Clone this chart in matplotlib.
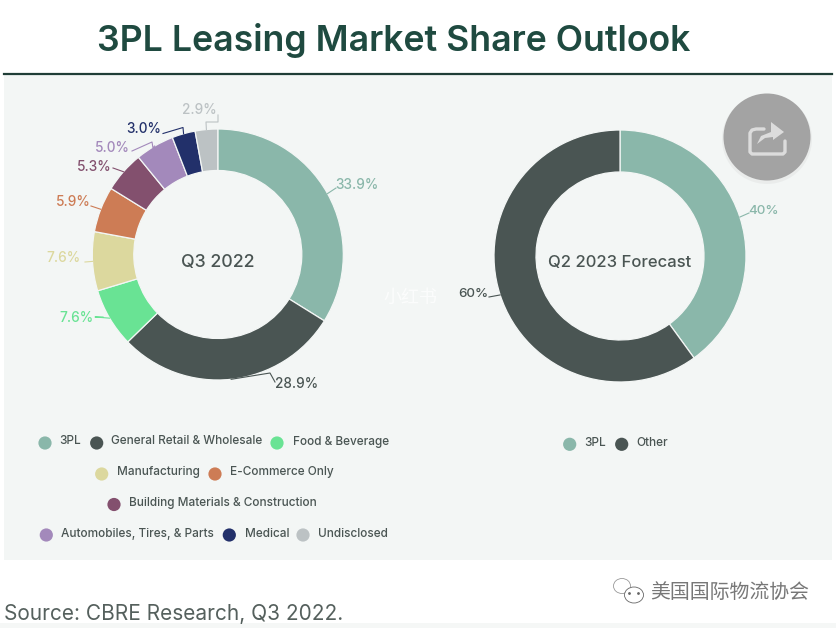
import numpy as np
import matplotlib
matplotlib.use('Agg')
import matplotlib.pyplot as plt
from matplotlib.patches import Circle, Ellipse, Polygon, Rectangle

plt.rcParams['font.family'] = ['Inter', 'DejaVu Sans']

# data
CATEGORIES_Q3 = ['3PL', 'General Retail & Wholesale', 'Food & Beverage', 'Manufacturing',
                 'E-Commerce Only', 'Building Materials & Construction',
                 'Automobiles, Tires, & Parts', 'Medical', 'Undisclosed']
VALUES_Q3 = [33.9, 28.9, 7.6, 7.6, 5.9, 5.3, 5.0, 3.0, 2.9]
COLORS_Q3 = ['#8ab7aa', '#4a5553', '#69e394', '#dcd89e', '#cd7c55', '#83506e', '#a389bb', '#22306a', '#bcc2c4']
LABELS_Q3 = ['33.9%', '28.9%', '7.6%', '7.6%', '5.9%', '5.3%', '5.0%', '3.0%', '2.9%']

CATEGORIES_Q2 = ['3PL', 'Other']
VALUES_Q2 = [40, 60]
COLORS_Q2 = ['#8ab7aa', '#4a5553']
LABELS_Q2 = ['40%', '60%']

W, H = 837, 628
PANEL = '#f3f6f5'
TEXT = '#4a5553'

fig = plt.figure(figsize=(W / 100, H / 100), dpi=100, facecolor='white')

# overlay in pixel coords, y going down
ax = fig.add_axes([0, 0, 1, 1], zorder=1)
ax.set_xlim(0, W)
ax.set_ylim(H, 0)
ax.axis('off')
ax.patch.set_alpha(0)

bg = fig.add_axes([0, 0, 1, 1], zorder=0)
bg.set_xlim(0, W)
bg.set_ylim(H, 0)
bg.axis('off')
bg.add_patch(Rectangle((4, 75), 828, 485, color=PANEL, lw=0))
bg.add_patch(Rectangle((0, 623), W, 5, color='#f5f7f6', lw=0))
bg.plot([4, 832], [73.5, 73.5], color='#1f3d36', lw=1.6)


def donut(cx, cy, radius, inner, values, colors):
    a = fig.add_axes([(cx - radius) / W, 1 - (cy + radius) / H, 2 * radius / W, 2 * radius / H], zorder=0.5)
    a.pie(values, colors=colors, startangle=90, counterclock=False, radius=1,
          wedgeprops=dict(width=1 - inner / radius, edgecolor=PANEL, linewidth=0.9))
    a.set_xlim(-1, 1)
    a.set_ylim(-1, 1)
    return a


def leader(cx, cy, radius, values, i, points, color):
    # start on the outer edge of wedge i, at its middle angle
    mid = (sum(values[:i]) + values[i] / 2) / sum(values) * 2 * np.pi
    x0 = cx + radius * np.sin(mid)
    y0 = cy - radius * np.cos(mid)
    xs = [x0] + [p[0] for p in points]
    ys = [y0] + [p[1] for p in points]
    ax.plot(xs, ys, color=color, lw=0.8, solid_joinstyle='round')


CX1, CY1, R1, IN1 = 217.8, 254.5, 125.5, 84
CX2, CY2, R2, IN2 = 620, 256, 126, 84
donut(CX1, CY1, R1, IN1, VALUES_Q3, COLORS_Q3)
donut(CX2, CY2, R2, IN2, VALUES_Q2, COLORS_Q2)

# label layout: text x, text y, align, elbow points
LAYOUT_Q3 = [
    (335, 185, 'left', [(336, 188)]),
    (275, 384, 'left', [(270, 373), (275, 382)]),
    (93.5, 318.5, 'right', [(95, 317), (103, 317)]),
    (81, 258, 'right', [(85, 262)]),
    (91, 202, 'right', [(91, 206)]),
    (112, 167, 'right', [(113, 168)]),
    (130, 148, 'right', [(153, 148), (152, 142), (132, 151)]),
    (161, 129, 'right', [(183, 127.5), (163, 133.5)]),
    (217, 110, 'right', [(206, 122), (218, 122), (218, 115)]),
]
LAYOUT_Q2 = [
    (748, 211, 'left', [(749, 213)]),
    (488, 294, 'right', [(489, 297)]),
]

for i, (x, y, ha, pts) in enumerate(LAYOUT_Q3):
    leader(CX1, CY1, R1, VALUES_Q3, i, pts, COLORS_Q3[i])
    ax.text(x, y, LABELS_Q3[i], color=COLORS_Q3[i], fontsize=9.8, fontweight='medium', ha=ha, va='center')

for i, (x, y, ha, pts) in enumerate(LAYOUT_Q2):
    leader(CX2, CY2, R2, VALUES_Q2, i, pts, COLORS_Q2[i])
    ax.text(x, y, LABELS_Q2[i], color=COLORS_Q2[i], fontsize=9.6, fontweight='medium', ha=ha, va='center')

ax.text(217.5, 262.5, 'Q3 2022', color=TEXT, fontsize=12.8, fontweight='medium', ha='center', va='center')
ax.text(620, 262.5, 'Q2 2023 Forecast', color=TEXT, fontsize=12, fontweight='medium', ha='center', va='center')

# title, source
ax.text(97, 41, '3PL Leasing Market Share Outlook', color='#1f4a40', fontsize=25.7,
        fontweight='semibold', ha='left', va='center')
ax.text(4, 614, 'Source: CBRE Research, Q3 2022.', color='#55605d', fontsize=15, ha='left', va='center')

# legends: marker x, marker y, text x, text y
LEGEND_Q3 = [(45, 443, 59.7, 441.5), (96.7, 443, 111.3, 441.5), (277, 443, 292.7, 441.5),
             (101.7, 474, 116.7, 472.3), (215, 474, 230, 472.3),
             (114, 504.5, 129, 502.7),
             (46.3, 535, 61.3, 533.7), (229.3, 535, 244.7, 533.7), (303, 535, 318, 533.7)]
LEGEND_Q2 = [(569.7, 444.3, 584.3, 443.3), (621.7, 444.3, 636.3, 443.3)]

for (mx, my, tx, ty), name, c in zip(LEGEND_Q3, CATEGORIES_Q3, COLORS_Q3):
    ax.add_patch(Circle((mx, my), 6.6, color=c, lw=0))
    ax.text(tx, ty, name, color=TEXT, fontsize=8.5, fontweight='medium', ha='left', va='center')
for (mx, my, tx, ty), name, c in zip(LEGEND_Q2, CATEGORIES_Q2, COLORS_Q2):
    ax.add_patch(Circle((mx, my), 6.6, color=c, lw=0))
    ax.text(tx, ty, name, color=TEXT, fontsize=8.5, fontweight='medium', ha='left', va='center')

# share button
ax.add_patch(Circle((767, 139), 45, color='#aaaaaa', alpha=0.12, lw=0))
ax.add_patch(Circle((767, 137), 43.5, color='#a3a3a3', lw=0))
ax.plot([764, 756, 752, 750, 750, 752, 783, 785, 785], [129, 129, 130, 133, 152, 154, 154, 152, 141],
        color='#dcdcdc', lw=2.4, solid_capstyle='round')
ax.add_patch(Polygon([(757, 144), (761, 136), (771, 132), (771, 122), (784, 132), (773, 140), (773, 137), (765, 138)],
                     closed=True, color='#dcdcdc', lw=0))

# watermarks
ax.text(410, 298, '小红书', color='white', alpha=0.75, fontsize=13, ha='center', va='center',
        family=['Noto Sans CJK SC', 'DejaVu Sans'])
ax.text(650, 592, '美国国际物流协会', color='#777777', fontsize=14.3, ha='left', va='center',
        family=['Noto Sans CJK SC', 'DejaVu Sans'], fontweight='light')
ax.add_patch(Ellipse((622, 586), 17, 15, fc='white', ec='#999999', lw=0.6))
ax.add_patch(Ellipse((634, 595), 19, 16, fc='white', ec='#666666', lw=0.6))
ax.plot([629, 638], [593, 593], ls='none', marker='o', ms=1, color='#666666')

fig.savefig('out.png', dpi=100, facecolor='white')
